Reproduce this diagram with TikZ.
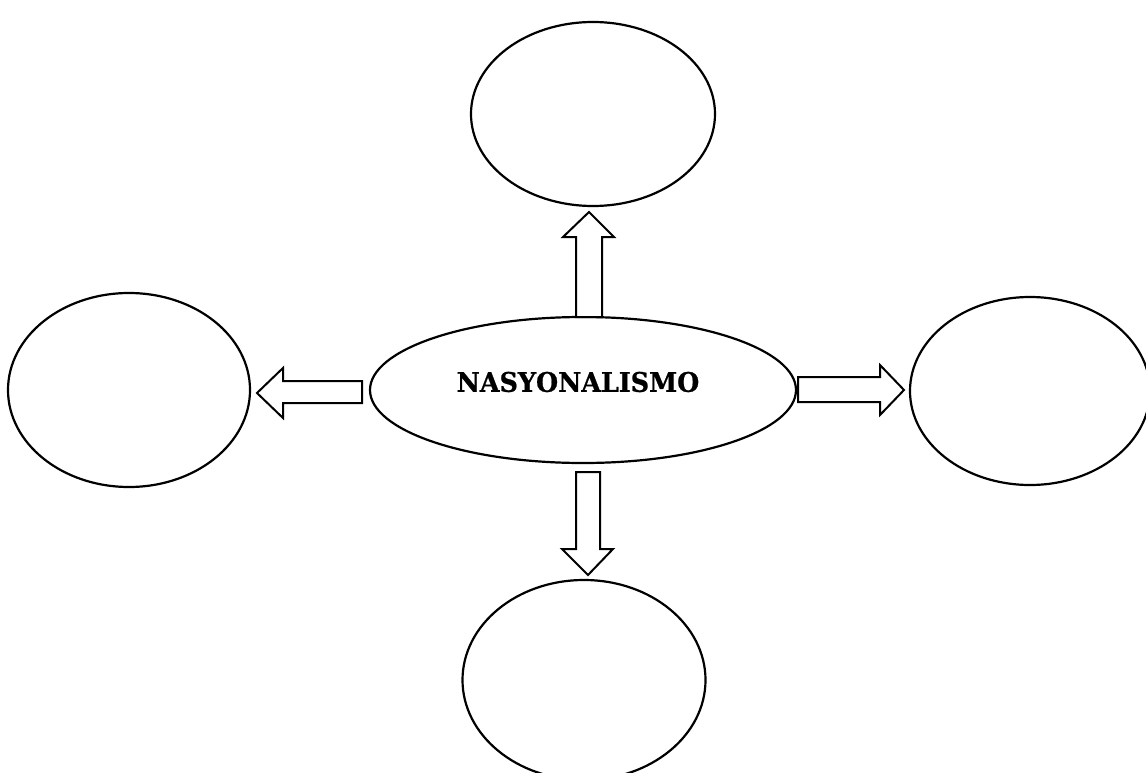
\documentclass[tikz,border=0pt]{standalone}
\usepackage{fontspec}
\setmainfont{DejaVu Serif}
\newfontfamily\titlefont[FakeBold=0.8]{DejaVu Serif Bold}
\usetikzlibrary{shapes.geometric}
\tikzset{
  bubble/.style={ellipse, draw=black, line width=2.2pt, fill=white, inner sep=0pt},
  blockarrow/.style={draw=black, line width=2pt, fill=white, line join=miter},
  title/.style={inner sep=0pt, font=\titlefont\fontsize{27}{32}\selectfont, xscale=0.94},
}
\begin{document}
\begin{tikzpicture}[x=1pt,y=-1pt]
\useasboundingbox (0,0) rectangle (1146,773);
\clip (0,0) rectangle (1146,773);
\fill[white] (0,0) rectangle (1146,773);
% ellipses
\node[bubble, minimum width=426pt, minimum height=146pt] (center) at (583,390) {};
\node[title] (label) at (578,382) {NASYONALISMO};
\node[bubble, minimum width=244pt, minimum height=184pt] (top) at (593,114) {};
\node[bubble, minimum width=242pt, minimum height=194pt] (left) at (129,390) {};
\node[bubble, minimum width=240pt, minimum height=188pt] (right) at (1030,391) {};
\node[bubble, minimum width=243pt, minimum height=200pt] (bottom) at (584,680) {};
% block arrows
% up
\draw[blockarrow] (576,317) -- (576,237) -- (563,237) -- (589,212) -- (614,237) -- (602,237) -- (602,317) -- cycle;
% down
\draw[blockarrow] (576,472) -- (576,549) -- (562,549) -- (588,575) -- (613,549) -- (600,549) -- (600,472) -- cycle;
% right
\draw[blockarrow] (798,377) -- (880,377) -- (880,365) -- (904,390) -- (880,415) -- (880,402) -- (798,402) -- cycle;
% left
\draw[blockarrow] (362,381) -- (283,381) -- (283,368) -- (257,393) -- (283,418) -- (283,403) -- (362,403) -- cycle;
\end{tikzpicture}
\end{document}
